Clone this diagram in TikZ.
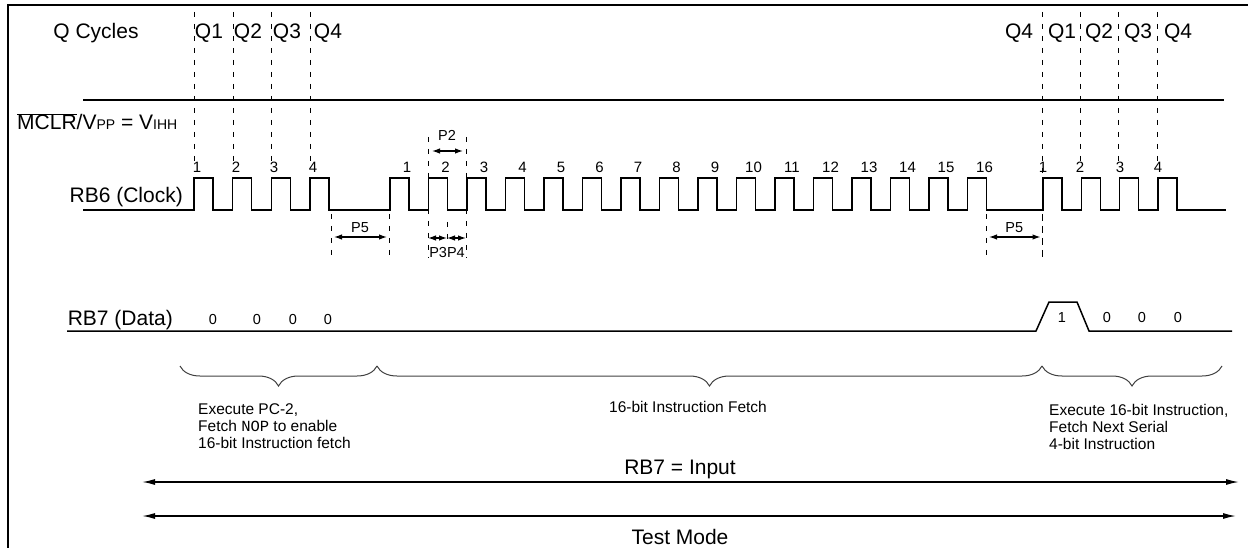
\documentclass[tikz,border=0pt]{standalone}
\usepackage{fontspec}
\setmainfont{Liberation Sans}
\setmonofont{Liberation Mono}
\usepackage{tikz}
\usetikzlibrary{arrows.meta}
\usetikzlibrary{decorations.pathreplacing}
\tikzset {
  % page edge lines
  outline/.style = {line width=2.6pt},
  % signal traces
  wave/.style = {line width=1.5pt, line join=miter},
  qline/.style = {dash pattern=on 5pt off 7pt, line width=1pt},
  % texts
  sig/.style = {font=\fontsize{21}{25}\selectfont, inner sep=0pt},
  qlab/.style = {sig, anchor=base},
  num/.style = {font=\fontsize{15}{17}\selectfont, inner sep=0pt, anchor=base},
  plab/.style = {font=\fontsize{14.5}{16}\selectfont, inner sep=0pt, anchor=base},
  bit/.style = {font=\fontsize{14.5}{16}\selectfont, inner sep=0pt, anchor=base},
  note/.style = {font=\fontsize{15.5}{17}\selectfont, inner sep=0pt, align=left, anchor=north west},
  % timing arrows
  pwidth/.style = {{Latex[length=8pt,width=5.5pt]}-{Latex[length=8pt,width=5.5pt]}, line width=1.2pt},
  spanarr/.style = {{Latex[length=13pt,width=6pt]}-{Latex[length=13pt,width=6pt]}, line width=1.4pt},
  grp/.style = {decorate, decoration={brace, mirror, amplitude=20pt}, line width=1pt, black!75},
}

\begin{document}
\begin{tikzpicture}[x=1pt,y=-1pt]
  \useasboundingbox (0,0) rectangle (1248,548);
  \draw[outline] (8,548) -- (8,5) -- (1248,5);

  % Q cycles
  \node[qlab] (qcyc) at (96,39) {Q Cycles};
  \foreach \q/\x in {1/209,2/248,3/287,4/328}
    \node[qlab] (qa\q) at (\x,39) {Q\q};
  \node[qlab] (qb0) at (1019,39) {Q4};
  \foreach \q/\x in {1/1062,2/1099,3/1138,4/1178}
    \node[qlab] (qb\q) at (\x,39) {Q\q};

  \foreach \x in {194,233,271.5,310.5,1080,1118,1157}
    \draw[qline] (\x,12) -- (\x,164);
  \draw[qline] (1042.5,12) -- (1042.5,258);

  % MCLR
  \node[sig, anchor=base west] (mclr) at (17,130)
    {$\overline{\hbox{MCLR}}$/V{\fontsize{14}{16}\selectfont PP} = V{\fontsize{14}{16}\selectfont IHH}};
  \draw[wave] (83,100) -- (1224,100);

  % clock
  \node[sig, anchor=base east] (rb6) at (183,203) {RB6 (Clock)};
  \draw[wave] (83,210)
    \foreach \x in {194,232.7,271.3,310} { -- (\x,210) -- (\x,178) -- ({\x+19},178) -- ({\x+19},210) }
    \foreach \k in {0,...,15} { -- ({390+38.5*\k},210) -- ({390+38.5*\k},178) -- ({409+38.5*\k},178) -- ({409+38.5*\k},210) }
    \foreach \x in {1043,1081.3,1119.7,1158} { -- (\x,210) -- (\x,178) -- ({\x+19},178) -- ({\x+19},210) }
    -- (1226,210);

  \foreach \n/\x in {1/197,2/236,3/274,4/313}
    \node[num] (na\n) at (\x,173) {\n};
  \foreach \n in {1,...,16}
    \node[num] (nb\n) at ({390+38.5*(\n-1)+17},173) {\n};
  \foreach \n/\x in {1/1043,2/1080,3/1120,4/1158}
    \node[num] (nc\n) at (\x,173) {\n};

  % P2, P3, P4
  \draw[qline] (428,137) -- (428,258);
  \draw[qline] (466,137) -- (466,258);
  \draw[qline] (447,222) -- (447,242);
  \coordinate (p2l) at (432,151);
  \coordinate (p2r) at (463,151);
  \draw[pwidth] (p2l) -- (p2r);
  \node[plab] (p2) at (447,141) {P2};
  \coordinate (p3l) at (428,238);
  \coordinate (p3r) at (447,238);
  \coordinate (p4r) at (466,238);
  \draw[pwidth] (p3l) -- (p3r);
  \draw[pwidth] (p3r) -- (p4r);
  \node[plab] (p34) at (447,258) {P3P4};

  % P5
  \foreach \a/\b/\i in {331/389/1,986/1042.5/2} {
    \draw[qline] (\a,214) -- (\a,258);
    \draw[qline] (\b,214) -- (\b,258);
    \coordinate (p5l\i) at ({\a+3},237);
    \coordinate (p5r\i) at ({\b-2},237);
    \draw[pwidth] (p5l\i) -- (p5r\i);
    \node[plab] (p5\i) at ({(\a+\b)/2},233) {P5};
  }

  % data
  \node[sig, anchor=base east] (rb7) at (173,325) {RB7 (Data)};
  \draw[wave] (67,331) -- (1036,331) -- (1049,302) -- (1077,302) -- (1089,331) -- (1232,331);
  \foreach \x [count=\i] in {213,257,293,328}
    \node[bit] (za\i) at (\x,324) {0};
  \node[bit] (one) at (1062,322) {1};
  \foreach \x [count=\i] in {1107,1142,1178}
    \node[bit] (zb\i) at (\x,322) {0};

  % phases
  \coordinate (b0) at (180,366);
  \coordinate (b1) at (377,366);
  \coordinate (b2) at (1042,366);
  \coordinate (b3) at (1222,366);
  \draw[grp] (b0) -- (b1);
  \draw[grp] (b1) -- (b2);
  \draw[grp] (b2) -- (b3);
  \node[note] (ex1) at (198,403) {Execute PC-2,\\Fetch {\ttfamily NOP} to enable\\16-bit Instruction fetch};
  \node[note, anchor=base] (fetch) at (688,412) {16-bit Instruction Fetch};
  \node[note] (ex2) at (1049,404) {Execute 16-bit Instruction,\\Fetch Next Serial\\4-bit Instruction};

  % modes
  \coordinate (inL) at (142,482);
  \coordinate (inR) at (1239,482);
  \draw[spanarr] (inL) -- (inR);
  \node[sig, anchor=base] (rb7in) at (680,474) {RB7 = Input};
  \coordinate (tmL) at (142,516);
  \coordinate (tmR) at (1236,516);
  \draw[spanarr] (tmL) -- (tmR);
  \node[sig, anchor=base] (tmode) at (680,544) {Test Mode};
\end{tikzpicture}
\end{document}
